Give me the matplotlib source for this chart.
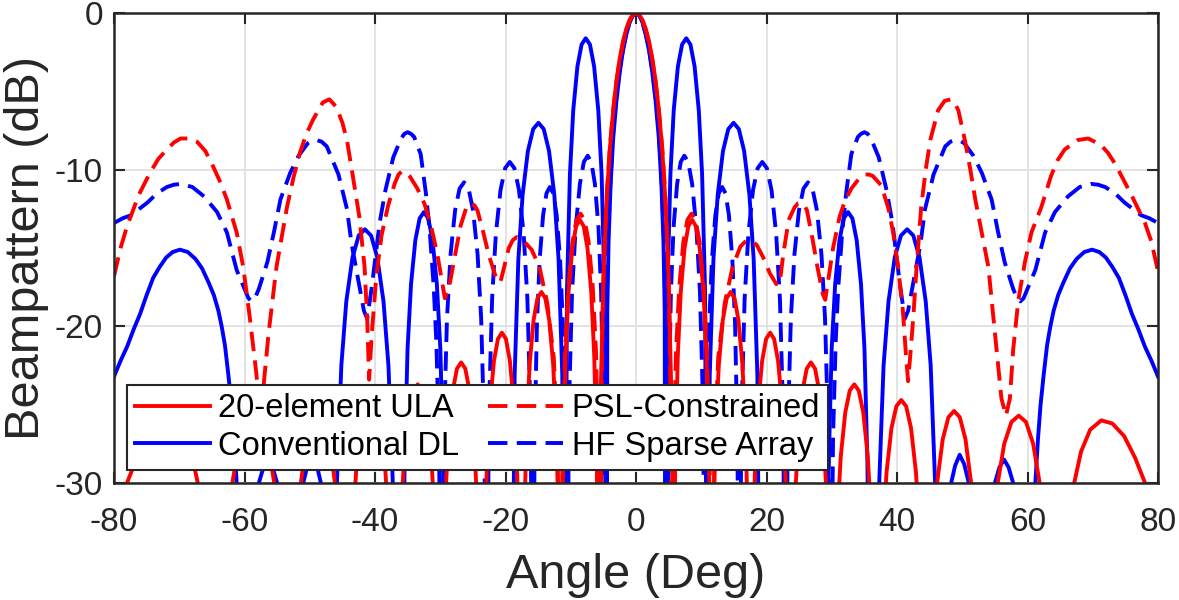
"""
Beampattern comparison: 20-element ULA, conventional DL, PSL-constrained
and HF sparse array. MATLAB-like style, values read off the figure.
"""

import matplotlib
matplotlib.use('Agg')
import numpy as np
import matplotlib.pyplot as plt

# ── Style ─────────────────────────────────────────────────────
plt.rcParams.update({
    'font.family': ['Liberation Sans', 'DejaVu Sans'],
    'axes.unicode_minus': False,
    'figure.dpi': 100,
})

# ── Data (angle in deg, beampattern in dB; -45 = deep null) ───
ula = [
    (-80, -33), (-78.2, -30.2), (-76.5, -28.4), (-74.8, -27.0), (-73.0, -26.2), (-71.3, -26.0), (-69.6, -26.6),
    (-68.2, -28.0), (-67.0, -30.3), (-66.0, -33.5), (-65.2, -38), (-64.2, -45),
    (-63.65, -41.8), (-62.87, -34.4), (-61.98, -30.3), (-60.87, -27.5), (-59.76, -26.1), (-58.65, -25.7),
    (-57.54, -26.1), (-56.43, -27.5), (-55.32, -30.3), (-54.43, -34.4), (-53.66, -41.8), (-53.1, -45),
    (-52.67, -41.5), (-52.06, -34.1), (-51.36, -30.0), (-50.49, -27.2), (-49.62, -25.8), (-48.75, -25.4),
    (-47.88, -25.8), (-47.01, -27.2), (-46.14, -30.0), (-45.44, -34.1), (-44.84, -41.5), (-44.4, -45),
    (-44.03, -40.8), (-43.5, -33.4), (-42.9, -29.3), (-42.15, -26.5), (-41.4, -25.1), (-40.65, -24.7),
    (-39.9, -25.1), (-39.15, -26.5), (-38.4, -29.3), (-37.8, -33.4), (-37.28, -40.8), (-36.9, -45),
    (-36.55, -39.8), (-36.07, -32.4), (-35.52, -28.3), (-34.83, -25.5), (-34.14, -24.1), (-33.45, -23.7),
    (-32.76, -24.1), (-32.07, -25.5), (-31.38, -28.3), (-30.83, -32.4), (-30.35, -39.8), (-30.0, -45),
    (-29.68, -38.4), (-29.23, -31.0), (-28.72, -26.9), (-28.08, -24.1), (-27.44, -22.7), (-26.8, -22.3),
    (-26.16, -22.7), (-25.52, -24.1), (-24.88, -26.9), (-24.37, -31.0), (-23.92, -38.4), (-23.6, -45),
    (-23.3, -36.5), (-22.87, -29.1), (-22.38, -25.0), (-21.77, -22.2), (-21.16, -20.8), (-20.55, -20.4),
    (-19.94, -20.8), (-19.33, -22.2), (-18.72, -25.0), (-18.23, -29.1), (-17.81, -36.5), (-17.5, -45),
    (-17.2, -33.9), (-16.78, -26.5), (-16.3, -22.4), (-15.7, -19.6), (-15.1, -18.2), (-14.5, -17.8),
    (-13.9, -18.2), (-13.3, -19.6), (-12.7, -22.4), (-12.22, -26.5), (-11.8, -33.9), (-11.5, -45),
    (-11.21, -29.3), (-10.8, -21.9), (-10.34, -17.8), (-9.76, -15.0), (-9.18, -13.6), (-8.6, -13.2),
    (-8.02, -13.6), (-7.44, -15.0), (-6.86, -17.8), (-6.4, -21.9), (-5.99, -29.3), (-5.7, -45),
    (-5.6, -31), (-5.4, -24.1), (-5.0, -16.9), (-4.5, -11.9), (-4.0, -8.6), (-3.5, -6.2), (-3.0, -4.3),
    (-2.5, -2.9), (-2.0, -1.8), (-1.5, -1.0), (-1.0, -0.44), (-0.5, -0.1), (0, 0),
    (0.5, -0.1), (1.0, -0.44), (1.5, -1.0), (2.0, -1.8), (2.5, -2.9), (3.0, -4.3), (3.5, -6.2),
    (4.0, -8.6), (4.5, -11.9), (5.0, -16.9), (5.4, -24.1), (5.6, -31), (5.7, -45),
    (5.99, -29.3), (6.4, -21.9), (6.86, -17.8), (7.44, -15.0), (8.02, -13.6), (8.6, -13.2),
    (9.18, -13.6), (9.76, -15.0), (10.34, -17.8), (10.8, -21.9), (11.21, -29.3), (11.5, -45),
    (11.8, -33.9), (12.22, -26.5), (12.7, -22.4), (13.3, -19.6), (13.9, -18.2), (14.5, -17.8),
    (15.1, -18.2), (15.7, -19.6), (16.3, -22.4), (16.78, -26.5), (17.2, -33.9), (17.5, -45),
    (17.81, -36.5), (18.23, -29.1), (18.72, -25.0), (19.33, -22.2), (19.94, -20.8), (20.55, -20.4),
    (21.16, -20.8), (21.77, -22.2), (22.38, -25.0), (22.87, -29.1), (23.3, -36.5), (23.6, -45),
    (23.92, -38.4), (24.37, -31.0), (24.88, -26.9), (25.52, -24.1), (26.16, -22.7), (26.8, -22.3),
    (27.44, -22.7), (28.08, -24.1), (28.72, -26.9), (29.23, -31.0), (29.68, -38.4), (30.0, -45),
    (30.35, -39.8), (30.83, -32.4), (31.38, -28.3), (32.07, -25.5), (32.76, -24.1), (33.45, -23.7),
    (34.14, -24.1), (34.83, -25.5), (35.52, -28.3), (36.07, -32.4), (36.55, -39.8), (36.9, -45),
    (37.28, -40.8), (37.8, -33.4), (38.4, -29.3), (39.15, -26.5), (39.9, -25.1), (40.65, -24.7),
    (41.4, -25.1), (42.15, -26.5), (42.9, -29.3), (43.5, -33.4), (44.03, -40.8), (44.4, -45),
    (44.84, -41.5), (45.44, -34.1), (46.14, -30.0), (47.01, -27.2), (47.88, -25.8), (48.75, -25.4),
    (49.62, -25.8), (50.49, -27.2), (51.36, -30.0), (52.06, -34.1), (52.67, -41.5), (53.1, -45),
    (53.66, -41.8), (54.43, -34.4), (55.32, -30.3), (56.43, -27.5), (57.54, -26.1), (58.65, -25.7),
    (59.76, -26.1), (60.87, -27.5), (61.98, -30.3), (62.87, -34.4), (63.65, -41.8), (64.2, -45),
    (65.2, -38), (66.0, -33.5), (67.0, -30.3), (68.2, -28.0), (69.6, -26.6), (71.3, -26.0), (73.0, -26.2),
    (74.8, -27.0), (76.5, -28.4), (78.2, -30.2), (80, -33),
]

conv_dl = [
    (-80, -23.2), (-79, -22.2), (-78, -21.3), (-77, -20.2), (-76, -19.2), (-75, -18.0), (-74, -16.9),
    (-73, -16.2), (-72, -15.6), (-71, -15.25), (-69.9, -15.1), (-68.7, -15.25), (-67.5, -15.7), (-66.5, -16.3),
    (-65.5, -17.2), (-64.7, -18), (-64, -19.0), (-63.5, -20), (-63, -21.2), (-62.5, -23), (-62, -25),
    (-61.6, -27.2), (-61.2, -30), (-60.6, -37), (-60, -45),
    (-59.2, -35), (-58.5, -32), (-57.8, -30), (-57.1, -29), (-56.4, -28.5), (-55.7, -29), (-55, -30),
    (-54.4, -31.5), (-53.7, -34.3), (-53, -45),
    (-52.3, -34.2), (-51.7, -31.8), (-51.0, -30.0), (-50.3, -28.8), (-49.6, -28.2), (-48.9, -28.9),
    (-48.3, -30.0), (-47.7, -31.6), (-47.0, -34.5), (-46.3, -45),
    (-45.83, -29.9), (-45.16, -22.5), (-44.4, -18.4), (-43.45, -15.6), (-42.5, -14.2), (-41.55, -13.8),
    (-40.6, -14.2), (-39.65, -15.6), (-38.7, -18.4), (-37.94, -22.5), (-37.28, -29.9), (-36.8, -45), (-35.8, -45),
    (-35.47, -28.8), (-35.01, -21.4), (-34.48, -17.3), (-33.82, -14.5), (-33.16, -13.1), (-32.5, -12.7),
    (-31.84, -13.1), (-31.18, -14.5), (-30.52, -17.3), (-29.99, -21.4), (-29.53, -28.8), (-29.2, -45),
    (-24, -45), (-19.0, -45),
    (-18.6, -23.1), (-18.03, -15.7), (-17.38, -11.6), (-16.57, -8.8), (-15.76, -7.4), (-14.95, -7.0),
    (-14.14, -7.4), (-13.33, -8.8), (-12.52, -11.6), (-11.87, -15.7), (-11.3, -23.1), (-10.9, -45),
    (-10.58, -17.7), (-10.13, -10.3), (-9.62, -6.2), (-8.98, -3.4), (-8.34, -2.0), (-7.7, -1.6),
    (-7.06, -2.0), (-6.42, -3.4), (-5.78, -6.2), (-5.27, -10.3), (-4.82, -17.7), (-4.5, -45),
    (-4.4, -19), (-4.2, -14.5), (-3.9, -11.0), (-3.5, -8.0), (-3.0, -5.6), (-2.5, -3.8), (-2.0, -2.4),
    (-1.5, -1.4), (-1.0, -0.6), (-0.5, -0.15), (0, 0),
    (0.5, -0.15), (1.0, -0.6), (1.5, -1.4), (2.0, -2.4), (2.5, -3.8), (3.0, -5.6), (3.5, -8.0),
    (3.9, -11.0), (4.2, -14.5), (4.4, -19), (4.5, -45),
    (4.82, -17.7), (5.27, -10.3), (5.78, -6.2), (6.42, -3.4), (7.06, -2.0), (7.7, -1.6),
    (8.34, -2.0), (8.98, -3.4), (9.62, -6.2), (10.13, -10.3), (10.58, -17.7), (10.9, -45),
    (11.3, -23.1), (11.87, -15.7), (12.52, -11.6), (13.33, -8.8), (14.14, -7.4), (14.95, -7.0),
    (15.76, -7.4), (16.57, -8.8), (17.38, -11.6), (18.03, -15.7), (18.6, -23.1), (19.0, -45),
    (24, -45), (29.2, -45),
    (29.53, -28.8), (29.99, -21.4), (30.52, -17.3), (31.18, -14.5), (31.84, -13.1), (32.5, -12.7),
    (33.16, -13.1), (33.82, -14.5), (34.48, -17.3), (35.01, -21.4), (35.47, -28.8), (35.8, -45), (36.8, -45),
    (37.28, -29.9), (37.94, -22.5), (38.7, -18.4), (39.65, -15.6), (40.6, -14.2), (41.55, -13.8),
    (42.5, -14.2), (43.45, -15.6), (44.4, -18.4), (45.16, -22.5), (45.83, -29.9), (46.3, -45),
    (47.0, -34.5), (47.7, -31.6), (48.3, -30.0), (48.9, -28.9), (49.6, -28.2), (50.3, -28.8),
    (51.0, -30.0), (51.7, -31.8), (52.3, -34.2), (53, -45),
    (53.7, -34.3), (54.4, -31.5), (55, -30), (55.7, -29), (56.4, -28.5), (57.1, -29), (57.8, -30),
    (58.5, -32), (59.2, -35), (60, -45),
    (60.6, -37), (61.2, -30), (61.6, -27.2), (62, -25), (62.5, -23), (63, -21.2), (63.5, -20), (64, -19.0),
    (64.7, -18), (65.5, -17.2), (66.5, -16.3), (67.5, -15.7), (68.7, -15.25), (69.9, -15.1), (71, -15.25),
    (72, -15.6), (73, -16.2), (74, -16.9), (75, -18.0), (76, -19.2), (77, -20.2), (78, -21.3), (79, -22.2), (80, -23.2),
]

psl = [
    (-80, -16.8), (-79, -15.0), (-78, -13.6), (-76.2, -11.6), (-74.5, -10.2), (-73.2, -9.3), (-71.9, -8.7),
    (-70.8, -8.25), (-69.8, -8.0), (-68.5, -8.0), (-67.3, -8.2), (-66.0, -8.8), (-64.8, -9.8), (-63.7, -10.8),
    (-62.7, -11.9), (-61.2, -14.0), (-60.2, -16.2), (-59.2, -19.4), (-58.3, -22.6), (-57.5, -25.7),
    (-56.9, -23.0), (-56.3, -20.4), (-55.1, -16.2), (-53.5, -12.4), (-52.5, -10.5), (-51.5, -8.9), (-50.5, -7.7),
    (-49.5, -6.8), (-48.0, -5.7), (-47.0, -5.5), (-45.9, -6.0), (-45.0, -7.0), (-44.3, -8.1), (-43.4, -10.4),
    (-42.4, -13.0), (-41.6, -16.2), (-41.2, -19.5), (-40.9, -23.4),
    (-40.5, -20.5), (-39.8, -16.8), (-39.0, -14.2), (-38.0, -12.3), (-37.0, -10.9), (-36.4, -10.3),
    (-35.9, -10.1), (-35.3, -10.15), (-34.7, -10.4), (-33.5, -11.2), (-32.4, -12.2), (-31.4, -13.6),
    (-30.4, -15.5), (-29.3, -18.2),
    (-28.6, -17.4), (-27.8, -15.6), (-26.9, -13.6), (-26.0, -12.4), (-25.6, -12.2), (-25.2, -12.15),
    (-24.7, -12.3), (-24.3, -12.6), (-23.4, -14.0), (-22.6, -15.4), (-21.6, -16.7), (-20.8, -17.2),
    (-20.2, -16.2), (-19.5, -15.0), (-18.9, -14.5), (-18.3, -14.3), (-17.7, -14.4), (-17.1, -14.6),
    (-16.0, -15.1), (-14.8, -16.2), (-13.6, -18.5), (-12.6, -22), (-12.0, -28), (-11.6, -45),
    (-11.29, -28.9), (-10.86, -21.5), (-10.36, -17.4), (-9.74, -14.6), (-9.12, -13.2), (-8.5, -12.8),
    (-7.88, -13.2), (-7.26, -14.6), (-6.64, -17.4), (-6.14, -21.5), (-5.71, -28.9), (-5.4, -45),
    (-5.3, -25), (-5.1, -19), (-4.8, -14.5), (-4.4, -11), (-4.0, -8.5), (-3.5, -6.2), (-3.0, -4.4),
    (-2.5, -3.0), (-2.0, -1.9), (-1.5, -1.1), (-1.0, -0.5), (-0.5, -0.12), (0, 0),
    (0.5, -0.12), (1.0, -0.5), (1.5, -1.1), (2.0, -1.9), (2.5, -3.0), (3.0, -4.4), (3.5, -6.2),
    (4.0, -8.5), (4.4, -11), (4.8, -14.5), (5.1, -19), (5.3, -25), (5.4, -45),
    (5.71, -28.9), (6.14, -21.5), (6.64, -17.4), (7.26, -14.6), (7.88, -13.2), (8.5, -12.8),
    (9.12, -13.2), (9.74, -14.6), (10.36, -17.4), (10.86, -21.5), (11.29, -28.9), (11.6, -45),
    (12.0, -28), (12.6, -22), (13.6, -18.5), (14.8, -16.2), (16.0, -14.9), (16.7, -14.6), (17.3, -14.5),
    (17.9, -14.6), (18.5, -14.8), (19.5, -15.6), (20.5, -16.6), (21.5, -17.3),
    (22.0, -17.3), (22.6, -15.3), (23.4, -13.2), (24.3, -12.4), (24.8, -12.15), (25.3, -12.1), (25.8, -12.25),
    (26.2, -12.6), (27.0, -14.3), (27.8, -16.2), (28.6, -17.9),
    (29.0, -18.3), (29.4, -17.2), (30.2, -15.0), (31.2, -13.0), (32.0, -12.0), (33.0, -11.2), (34.1, -10.6),
    (34.6, -10.4), (35.1, -10.3), (35.7, -10.3), (36.3, -10.4), (37.6, -11.0), (38.7, -12.5), (39.4, -14.0),
    (40.2, -16.3), (40.9, -19.0), (41.4, -22.0),
    (41.7, -23.5), (42.1, -21.5), (42.5, -19.4), (43.0, -16.2), (43.7, -12.4), (44.4, -10.0), (45.1, -8.1),
    (46.3, -6.2), (47.3, -5.6), (48.2, -5.5), (48.8, -5.7), (49.4, -6.2), (50.4, -8.1), (51.2, -9.9),
    (52.0, -11.9), (53.2, -14.5), (54.0, -16.2), (55.0, -20.4), (56.0, -24.6),
    (56.7, -25.7), (57.3, -24.6), (57.8, -21.5), (58.6, -18.3), (59.6, -15.9), (60.6, -14.0), (62.1, -12.4),
    (63.6, -10.4), (64.6, -9.4), (65.7, -8.7), (67.7, -8.1), (69.3, -8.0), (71.2, -8.4), (72.3, -8.9),
    (73.4, -9.6), (75.8, -11.5), (78.0, -13.4), (79.0, -14.6), (80, -16.5),
]

hf_sparse = [
    (-80, -13.4), (-78.7, -13.1), (-77.4, -12.9), (-74.9, -12.1), (-73.4, -11.5), (-71.9, -11.1),
    (-70.8, -10.95), (-69.7, -10.9), (-68.0, -11.1), (-66.2, -11.7), (-64.2, -12.7), (-62.7, -14.0),
    (-61.2, -16.4), (-60.1, -17.5), (-59.4, -18.2), (-58.9, -18.4),
    (-58.4, -18.2), (-57.8, -17.6), (-56.5, -15.9), (-55.5, -14.0), (-54.5, -11.9), (-53.0, -10.2),
    (-51.7, -9.1), (-50.3, -8.3), (-49.7, -8.15), (-49.0, -8.1), (-48.2, -8.2), (-47.4, -8.5), (-45.6, -10.3),
    (-44.3, -12.5), (-43.6, -14.7), (-42.5, -17.2), (-41.7, -19.0), (-41.2, -19.5),
    (-40.5, -17.5), (-39.3, -13.4), (-38.4, -11.3), (-37.2, -9.2), (-36.0, -8.0), (-35.5, -7.7), (-35.0, -7.6),
    (-34.5, -7.7), (-34.0, -7.9), (-33.0, -9.0), (-32.2, -11.5), (-31.6, -14), (-31.0, -17.5), (-30.6, -21),
    (-30.2, -27), (-29.8, -45),
    (-29.46, -26.9), (-28.97, -19.5), (-28.42, -15.4), (-27.73, -12.6), (-27.04, -11.2), (-26.35, -10.8),
    (-25.66, -11.2), (-24.97, -12.6), (-24.28, -15.4), (-23.73, -19.5), (-23.25, -26.9), (-22.9, -45),
    (-22.55, -25.6), (-22.05, -18.2), (-21.48, -14.1), (-20.77, -11.3), (-20.06, -9.9), (-19.35, -9.5),
    (-18.64, -9.9), (-17.93, -11.3), (-17.22, -14.1), (-16.65, -18.2), (-16.16, -25.6), (-15.8, -45),
    (-15.54, -27.2), (-15.18, -19.8), (-14.76, -15.7), (-14.24, -12.9), (-13.72, -11.5), (-13.2, -11.1),
    (-12.68, -11.5), (-12.16, -12.9), (-11.64, -15.7), (-11.22, -19.8), (-10.86, -27.2), (-10.6, -45),
    (-10.28, -25.2), (-9.8, -17.8), (-9.25, -13.7), (-8.6, -10.9), (-8.0, -9.5), (-7.4, -9.1),
    (-6.85, -9.5), (-6.3, -10.9), (-5.75, -13.7), (-5.35, -17.8), (-5.0, -25.2), (-4.8, -45),
    (-4.6, -21), (-4.3, -14.5), (-3.9, -10.5), (-3.5, -7.6), (-3.0, -5.3), (-2.5, -3.6), (-2.0, -2.3),
    (-1.5, -1.3), (-1.0, -0.6), (-0.5, -0.15), (0, 0),
    (0.5, -0.15), (1.0, -0.6), (1.5, -1.3), (2.0, -2.3), (2.5, -3.6), (3.0, -5.3), (3.5, -7.6),
    (3.9, -10.5), (4.3, -14.5), (4.6, -21), (4.8, -45),
    (5.0, -25.2), (5.35, -17.8), (5.75, -13.7), (6.3, -10.9), (6.85, -9.5), (7.4, -9.1),
    (8.0, -9.5), (8.6, -10.9), (9.25, -13.7), (9.8, -17.8), (10.28, -25.2), (10.6, -45),
    (10.86, -27.2), (11.22, -19.8), (11.64, -15.7), (12.16, -12.9), (12.68, -11.5), (13.2, -11.1),
    (13.72, -11.5), (14.24, -12.9), (14.76, -15.7), (15.18, -19.8), (15.54, -27.2), (15.8, -45),
    (16.16, -25.6), (16.65, -18.2), (17.22, -14.1), (17.93, -11.3), (18.64, -9.9), (19.35, -9.5),
    (20.06, -9.9), (20.77, -11.3), (21.48, -14.1), (22.05, -18.2), (22.55, -25.6), (22.9, -45),
    (23.25, -26.9), (23.73, -19.5), (24.28, -15.4), (24.97, -12.6), (25.66, -11.2), (26.35, -10.8),
    (27.04, -11.2), (27.73, -12.6), (28.42, -15.4), (28.97, -19.5), (29.46, -26.9), (29.8, -45),
    (30.2, -27), (30.6, -21), (31.0, -17.5), (31.6, -14), (32.2, -11.5), (33.0, -9.0), (34.0, -7.9),
    (34.5, -7.7), (35.0, -7.6), (35.5, -7.7), (36.0, -8.0), (37.2, -9.2), (38.4, -11.3), (39.3, -13.4),
    (40.5, -17.5), (41.2, -19.5),
    (41.7, -19.0), (42.5, -17.2), (43.6, -14.7), (44.3, -12.5), (45.6, -10.3), (47.4, -8.5), (48.2, -8.2),
    (49.0, -8.1), (49.7, -8.15), (50.3, -8.3), (51.7, -9.1), (53.0, -10.2), (54.5, -11.9), (55.5, -14.0),
    (56.5, -15.9), (57.8, -17.6), (58.4, -18.2), (58.9, -18.4),
    (59.4, -18.2), (60.1, -17.5), (61.2, -16.4), (62.7, -14.0), (64.2, -12.7), (66.2, -11.7), (68.0, -11.1),
    (69.7, -10.9), (70.8, -10.95), (71.9, -11.1), (73.4, -11.5), (74.9, -12.1), (77.4, -12.9),
    (78.7, -13.1), (80, -13.4),
]

labels = ['20-element ULA', 'Conventional DL', 'PSL-Constrained', 'HF Sparse Array']
x_ticks = [-80, -60, -40, -20, 0, 20, 40, 60, 80]
y_ticks = [-30, -20, -10, 0]

# Colors (MATLAB)
C_RED = '#FF0000'
C_BLUE = '#0000FF'
C_AX = '#262626'
DASH = (5, 2.4)
LW = 2.8

# ── Figure ────────────────────────────────────────────────────
fig = plt.figure(figsize=(11.79, 6.0))
ax = fig.add_axes([0.0967, 0.195, 0.8855, 0.783])

curves = {}
for name, pts in [('ula', ula), ('conv', conv_dl), ('psl', psl), ('hf', hf_sparse)]:
    arr = np.array(pts, dtype=float)
    curves[name] = (arr[:, 0], arr[:, 1])

style = dict(lw=LW, solid_joinstyle='round', dash_joinstyle='round')
h_conv, = ax.plot(*curves['conv'], color=C_BLUE, zorder=3, **style)
h_hf, = ax.plot(*curves['hf'], color=C_BLUE, dashes=DASH, zorder=4, **style)
h_psl, = ax.plot(*curves['psl'], color=C_RED, dashes=DASH, zorder=5, **style)
h_ula, = ax.plot(*curves['ula'], color=C_RED, zorder=6, **style)

# ── Axes ──────────────────────────────────────────────────────
ax.set_xlim(-80, 80)
ax.set_ylim(-30, 0)
ax.set_xticks(x_ticks)
ax.set_yticks(y_ticks)
ax.grid(True, color='#dedede', lw=1.2)
ax.set_axisbelow(True)
for s in ax.spines.values():
    s.set_color(C_AX)
    s.set_linewidth(1.8)
    s.set_zorder(10)
ax.tick_params(direction='in', length=8, width=1.5, colors=C_AX,
               top=True, right=True, labelsize=24)
ax.tick_params(axis='x', pad=17)
ax.tick_params(axis='y', pad=8)

ax.set_xlabel('Angle (Deg)', fontsize=35, color=C_AX, labelpad=11)
ax.set_ylabel('Beampattern (dB)', fontsize=35, color=C_AX, labelpad=4)

# ── Legend ────────────────────────────────────────────────────
leg = ax.legend([h_ula, h_conv, h_psl, h_hf], labels, ncol=2,
                loc='lower left', bbox_to_anchor=(0.012, 0.028), borderaxespad=0,
                fontsize=23.5, frameon=True, fancybox=False, framealpha=1,
                edgecolor=C_AX, handlelength=2.3, handletextpad=0.25,
                columnspacing=0.9, labelspacing=0.2, borderpad=0.25)
leg.get_frame().set_linewidth(1.5)
leg.set_zorder(20)

fig.savefig('out.png', dpi=100, facecolor='white')
